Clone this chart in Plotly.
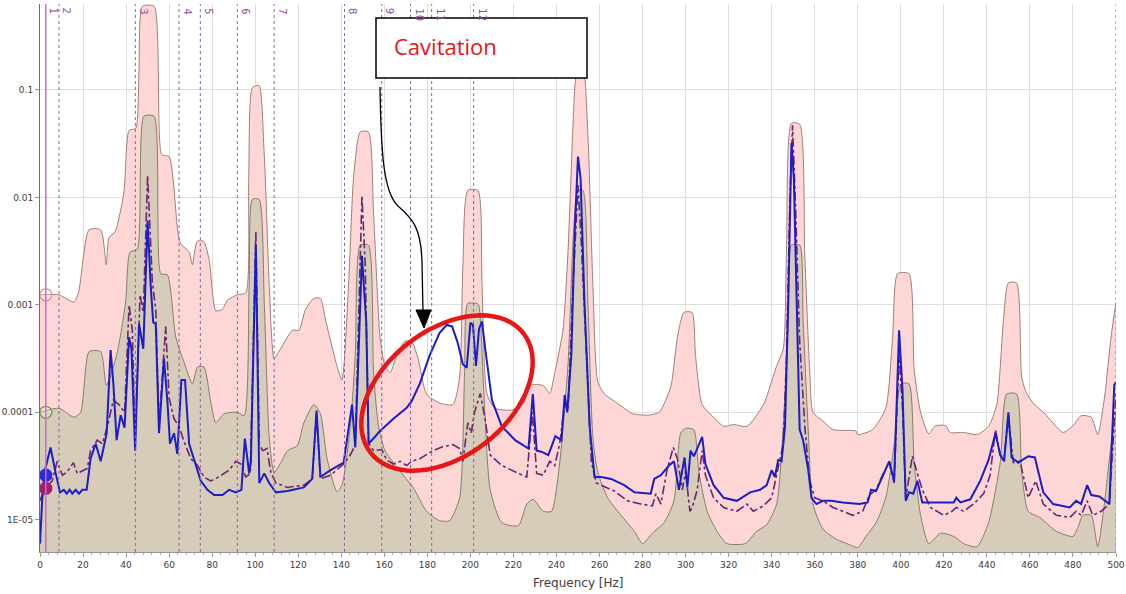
import plotly.graph_objects as go
import math

# ---------------- data ----------------
pink_hz = [0, 8.8, 15.8, 18, 22.8, 28.2, 30.8, 32, 35, 39, 41.4, 44.5, 46, 47.6, 53, 56.6, 60, 64, 65.4, 69.3,
           70.8, 73, 76, 78.6, 81.7, 84.8, 87, 91.7, 95.6, 97, 98.7, 101.8, 104, 105, 106.5, 108.8, 111, 117.3,
           120.3, 123.4, 127.3, 130.3, 132.7, 138, 140.3, 143.4, 145.7, 148.8, 152.6, 155, 158, 160.3, 162.7,
           165.8, 169.6, 172.8, 175.7, 179.6, 185.7, 191.9, 195, 196.5, 198.8, 203.5, 205.4, 207.7, 211.5,
           219.2, 224.6, 227.7, 233.8, 236.9, 239.2, 243, 245.4, 247.7, 249.2, 252.3, 254.6, 256.9, 259.2,
           262.3, 266.9, 271.5, 275.4, 282.3, 287.7, 293.1, 296.2, 299.2, 303, 304.6, 307.7, 312.3, 317.7,
           322.3, 328.5, 336.2, 342.3, 345.4, 346.9, 349.2, 353, 355.4, 357.7, 359.2, 363.8, 368.5, 379.2,
           380, 386.9, 393, 396.2, 398.5, 403.8, 406.2, 409.2, 413, 416, 420.8, 423, 429.2, 435.4, 440.8,
           444.6, 447.7, 450, 453.8, 456.2, 458.5, 461.5, 466.9, 475.4, 480, 483.8, 488.5, 491.5, 494.6,
           497.7, 500]
pink_val = [1.24e-3, 1.24e-3, 1.06e-3, 1.33e-3, 5.0e-3, 5.0e-3, 2.36e-3, 4.2e-3, 4.85e-3, 1.12e-2, 4.2e-2,
            4.4e-2, 0.149, 0.6, 0.6, 2.5e-2, 2.4e-2, 4.85e-3, 3.7e-3, 3.1e-3, 2.36e-3, 3.9e-3, 3.9e-3, 2.64e-3,
            8.8e-4, 9.1e-4, 1.1e-3, 1.24e-3, 1.29e-3, 1.5e-2, 0.105, 0.11, 3.0e-2, 1.04e-2, 1.55e-3, 3.16e-4,
            3.67e-4, 5.8e-4, 5.8e-4, 9.1e-4, 1.15e-3, 1.15e-3, 7.2e-4, 2.7e-4, 2.0e-4, 1.55e-3, 1.52e-2,
            4.07e-2, 4.07e-2, 7.1e-3, 5.0e-4, 2.7e-4, 2.34e-4, 3.4e-4, 4.6e-4, 4.5e-4, 3.16e-4, 1.48e-4,
            1.22e-4, 1.18e-4, 2.15e-4, 2.3e-3, 1.16e-2, 1.16e-2, 1.55e-3, 1.48e-4, 1.09e-4, 1.05e-4, 1.2e-4,
            1.78e-4, 1.78e-4, 1.5e-4, 2.34e-4, 5.8e-4, 3.3e-3, 4.75e-2, 0.132, 0.16, 3.8e-2, 1.55e-3, 1.92e-4,
            1.48e-4, 1.27e-4, 1.09e-4, 9.7e-5, 9.4e-5, 1.0e-4, 1.73e-4, 5.0e-4, 8.5e-4, 8.5e-4, 3.4e-4,
            1.18e-4, 9.3e-5, 7.4e-5, 7.7e-5, 7.4e-5, 1.18e-4, 2.7e-4, 3.9e-4, 3.3e-3, 4.9e-2, 4.8e-2, 2.85e-3,
            2.34e-4, 1.0e-4, 8.3e-5, 6.9e-5, 6.7e-5, 6.2e-5, 6.9e-5, 1.09e-4, 5.0e-4, 1.95e-3, 1.95e-3,
            2.5e-4, 1.0e-4, 6.3e-5, 7.5e-5, 7.5e-5, 6.5e-5, 6.5e-5, 6.2e-5, 7.4e-5, 1.18e-4, 7.2e-4, 1.6e-3,
            1.6e-3, 2.1e-4, 1.5e-4, 1.22e-4, 9.7e-5, 6.5e-5, 7.5e-5, 9.3e-5, 9.0e-5, 6.2e-5, 1.35e-4, 5.0e-4,
            1.07e-3]

tan_hz = [0, 8.8, 15.8, 18.9, 22.8, 28.2, 30.8, 32.8, 36, 39.8, 41.8, 45.2, 48.3, 53, 56.1, 59.2, 63.1, 67,
          70.8, 73.2, 76.2, 79.3, 81.7, 85.5, 91.7, 94.9, 97.2, 98.7, 101.8, 104.2, 106.5, 108.8, 111.9, 115,
          119.6, 122.6, 127.3, 130.3, 133.4, 138, 140.3, 144.2, 146.5, 148.8, 152.6, 155, 157.3, 160.3, 164.2,
          168.8, 173.4, 179.6, 185.7, 190.3, 195, 197.3, 198.8, 202.7, 203.8, 206.2, 209.2, 214.6, 222.3,
          226.2, 229.2, 233.8, 237.7, 241.5, 245.4, 247.7, 250, 252.3, 254.6, 256.9, 259.2, 263.8, 270,
          276.2, 280, 284.6, 290, 294.6, 297.7, 300, 303.8, 306.2, 310, 314.6, 319.2, 327.7, 333, 337.7,
          342.3, 345.4, 347.7, 349.2, 353, 354.6, 356.9, 359.2, 363.8, 370, 377.7, 380, 383.8, 388.5, 393,
          396.9, 400, 403.8, 406.2, 409.2, 413, 418.5, 424.6, 429.2, 435.4, 440.8, 446.2, 449.2, 453.8,
          456.2, 459.2, 464.6, 472.3, 480, 482.3, 484.6, 488.5, 491.5, 494.6, 497.7, 500]
tan_val = [1.0e-4, 1.09e-4, 9.0e-5, 1.0e-4, 3.67e-4, 3.67e-4, 1.78e-4, 2.2e-4, 3.67e-4, 1.06e-3, 3.08e-3,
           3.3e-3, 5.7e-2, 5.7e-2, 1.95e-3, 1.9e-3, 5.0e-4, 2.9e-4, 1.84e-4, 2.64e-4, 2.64e-4, 1.26e-4, 8.0e-5,
           9.7e-5, 1.0e-4, 9.3e-5, 1.55e-3, 9.6e-3, 9.6e-3, 1.06e-3, 5.9e-5, 2.76e-5, 3.4e-5, 4.4e-5, 4.9e-5,
           8.0e-5, 1.18e-4, 9.7e-5, 3.7e-5, 1.82e-5, 2.1e-5, 7.4e-5, 3.4e-4, 3.6e-3, 3.6e-3, 2.34e-4, 7.4e-5,
           4.4e-5, 3.4e-5, 2.6e-5, 2.0e-5, 1.2e-5, 9.8e-6, 9.8e-6, 1.6e-5, 2.34e-4, 1.03e-3, 1.03e-3, 1.0e-3,
           1.6e-4, 1.9e-5, 9.4e-6, 8.8e-6, 1.4e-5, 1.55e-5, 1.2e-5, 1.2e-5, 3.4e-5, 2.9e-4, 3.9e-3, 1.16e-2,
           1.16e-2, 1.06e-3, 5.9e-5, 2.76e-5, 1.6e-5, 1.1e-5, 7.8e-6, 6.0e-6, 7.5e-6, 9.4e-6, 1.5e-5, 6.4e-5,
           7.1e-5, 6.9e-5, 2.76e-5, 1.2e-5, 7.8e-6, 6.0e-6, 6.0e-6, 7.8e-6, 9.0e-6, 1.4e-5, 7.4e-5, 7.2e-4,
           3.6e-3, 3.6e-3, 7.2e-4, 7.4e-5, 1.4e-5, 8.2e-6, 6.6e-6, 5.7e-6, 5.5e-6, 7.0e-6, 9.4e-6, 1.6e-5,
           5.0e-5, 1.84e-4, 1.84e-4, 3.4e-5, 1.1e-5, 6.0e-6, 7.5e-6, 7.0e-6, 6.0e-6, 5.6e-6, 9.4e-6, 3.4e-5,
           1.48e-4, 1.48e-4, 2.76e-5, 1.2e-5, 1.05e-5, 7.8e-6, 7.0e-6, 8.5e-6, 1.1e-5, 1.1e-5, 5.6e-6, 1.4e-5,
           5.0e-5, 1.0e-4]

blue_hz = [0, 1, 2.1, 4.9, 7.3, 9.3, 11.1, 12.4, 13.8, 15, 16.6, 18.1, 19.7, 21.7, 23.5, 25.9, 28.2, 31, 32.8,
           34.1, 35.6, 37.5, 39.3, 41.4, 42.5, 44.2, 46, 48, 50, 51.4, 52.6, 53.8, 55.3, 57.6, 59.2, 60.4,
           62.3, 63.8, 65.7, 67.4, 69.3, 71.6, 74.7, 77.8, 80.9, 84.8, 87.9, 91, 93.6, 95.2, 97.2, 98, 100.3,
           101.9, 104.2, 106.5, 109.6, 115, 122.6, 126.5, 128.5, 130.3, 135, 141.1, 143.4, 145, 146.5, 148.5,
           149.6, 151.6, 152.7, 154.2, 158, 164.2, 170.4, 172.7, 176.5, 181.1, 185.7, 189, 191.5, 194, 196.5,
           198.3, 200, 201.2, 202.6, 204, 205.4, 206.9, 210, 214.6, 220.8, 227, 229, 230.8, 233, 236.2, 239.5,
           242.3, 243.8, 245, 246.9, 248.5, 250, 251.2, 253, 255.4, 257.7, 260.8, 265.4, 271.5, 276.2, 283.8,
           285.4, 288.5, 292.3, 294.6, 296.9, 299.5, 300.8, 302.3, 303.8, 305, 307.7, 309.2, 313, 317.7,
           323.8, 330, 334.6, 337.7, 340, 341.5, 343, 344.6, 346.2, 347.7, 349.2, 350.3, 351.5, 353, 354.6,
           356.9, 358.5, 360.8, 363.8, 367.7, 373, 380.8, 384.6, 386.2, 388.5, 391.5, 394.6, 396.9, 399.2,
           400.8, 402.3, 403.8, 405.8, 407.7, 410, 415.4, 424.6, 425.8, 427.7, 432.3, 436.9, 440.8, 444,
           446.2, 448, 450, 451.5, 454.6, 459.2, 462.3, 466.2, 470.8, 478.5, 481.5, 483.8, 486.6, 488.5,
           492.3, 496.9, 499.2, 500]
blue_val = [6.0e-6, 1.5e-5, 2.77e-5, 4.7e-5, 2.7e-5, 1.8e-5, 1.9e-5, 1.75e-5, 1.9e-5, 1.75e-5, 1.9e-5,
            1.75e-5, 1.9e-5, 1.9e-5, 3.7e-5, 5.1e-5, 3.5e-5, 6.4e-5, 3.8e-4, 1.84e-4, 5.5e-5, 9.4e-5, 7.2e-5,
            5.0e-4, 3.9e-4, 4.4e-5, 6.7e-4, 3.9e-4, 6.1e-3, 1.55e-3, 6.9e-4, 6.6e-4, 6.4e-5, 3.16e-4, 1.27e-4,
            5.1e-5, 6.4e-5, 4.1e-5, 2.0e-4, 2.0e-4, 5.1e-5, 3.7e-5, 2.3e-5, 1.9e-5, 1.7e-5, 1.7e-5, 1.9e-5,
            1.8e-5, 1.9e-5, 5.7e-5, 2.7e-5, 3.5e-5, 3.6e-3, 2.2e-5, 2.7e-5, 2.2e-5, 1.8e-5, 1.85e-5, 2.0e-5,
            2.4e-5, 1.04e-4, 2.5e-5, 2.9e-5, 3.4e-5, 7.4e-5, 1.18e-4, 4.7e-5, 6.9e-4, 2.86e-3, 6.9e-4, 5.1e-5,
            5.5e-5, 6.7e-5, 8.7e-5, 1.1e-4, 1.27e-4, 1.85e-4, 3.4e-4, 5.5e-4, 6.5e-4, 6.3e-4, 4.5e-4, 2.8e-4,
            2.6e-4, 6.8e-4, 6.5e-4, 2.7e-4, 6.0e-4, 7.0e-4, 3.9e-4, 1.3e-4, 7.4e-5, 5.5e-5, 4.6e-5, 1.48e-4,
            4.4e-5, 4.3e-5, 4.0e-5, 6.0e-5, 5.5e-5, 1.45e-4, 1.0e-4, 3.4e-4, 5.0e-3, 2.4e-2, 1.5e-2, 1.06e-3,
            7.4e-5, 2.5e-5, 2.5e-5, 2.4e-5, 2.1e-5, 1.8e-5, 1.75e-5, 2.4e-5, 2.6e-5, 3.2e-5, 3.5e-5, 1.9e-5,
            3.8e-5, 2.0e-5, 4.4e-5, 3.9e-5, 4.4e-5, 5.9e-5, 3.3e-5, 2.1e-5, 1.6e-5, 1.5e-5, 1.8e-5, 1.9e-5,
            2.1e-5, 2.9e-5, 2.5e-5, 3.6e-5, 3.5e-5, 7.4e-5, 1.06e-3, 3.2e-2, 1.5e-2, 1.55e-3, 6.9e-5, 5.5e-5,
            3.0e-5, 1.6e-5, 1.4e-5, 1.5e-5, 1.5e-5, 1.45e-5, 1.4e-5, 1.45e-5, 1.9e-5, 1.85e-5, 2.5e-5, 3.5e-5,
            2.3e-5, 5.8e-4, 1.6e-4, 1.5e-5, 1.8e-5, 1.75e-5, 2.3e-5, 1.45e-5, 1.45e-5, 1.45e-5, 1.6e-5,
            1.45e-5, 1.55e-5, 2.3e-5, 3.6e-5, 6.4e-5, 4.0e-5, 3.5e-5, 1.0e-4, 3.8e-5, 3.4e-5, 3.9e-5, 3.8e-5,
            1.8e-5, 1.4e-5, 1.3e-5, 1.5e-5, 1.4e-5, 2.1e-5, 1.7e-5, 1.65e-5, 1.4e-5, 1.8e-4, 1.9e-4]

purple_hz = [0, 1.8, 5.7, 8, 10.4, 12.7, 15.5, 17.3, 22, 23.5, 26.6, 29, 31.3, 34.1, 36.7, 39.3, 41.4, 42.9,
             44.2, 46.5, 48, 50, 52.2, 53.8, 55.3, 58.4, 60, 62.3, 64.6, 67, 70.1, 73.2, 76.2, 79.3, 83.1,
             87.9, 91, 93.3, 95.6, 97.7, 100.3, 101.9, 103.5, 105.5, 107.2, 109.6, 115, 122.6, 126.5, 128.5,
             130.3, 135, 141.1, 144.2, 146.5, 148, 149.6, 151.1, 152.7, 155, 158.8, 161.1, 164.2, 167.3, 170.4,
             172.7, 176.5, 182.7, 187.3, 191.9, 195, 196.5, 198.8, 200.4, 201.9, 204.6, 206.9, 209.2, 214.6,
             222.3, 226.2, 228.8, 230.8, 233.8, 236.9, 239.2, 241.5, 243.8, 245.4, 247.7, 250, 251.5, 253.8,
             256.2, 258.5, 260.8, 266.9, 273, 279.2, 284.6, 286.2, 288.5, 291.5, 294.3, 296.2, 298.5, 300,
             302, 303.1, 305.4, 307.7, 309.2, 313, 317.7, 323.8, 328.5, 331.5, 336.2, 340, 342.3, 345.4,
             346.9, 348.5, 349.7, 351.2, 353, 355.4, 357.7, 360, 363.8, 368.5, 373, 377.7, 382.3, 385.4,
             388.5, 391.5, 394.6, 396.9, 399.2, 400.8, 402.3, 405.4, 407.7, 410, 413.8, 420, 423.8, 425.8,
             429.2, 433.8, 438.5, 441.5, 444, 446.2, 448, 450, 452.3, 455.4, 459.2, 462.7, 466.2, 472.3,
             478.5, 481.5, 483.8, 486.6, 489.2, 493.1, 496.9, 499.2, 500]
purple_val = [1.5e-5, 1.9e-5, 2.3e-5, 3.5e-5, 2.6e-5, 2.8e-5, 3.4e-5, 2.7e-5, 3.0e-5, 4.4e-5, 5.5e-5, 5.1e-5,
              7.4e-5, 1.3e-4, 1.18e-4, 1.0e-4, 1.0e-3, 5.8e-4, 5.1e-5, 1.24e-3, 8.5e-4, 1.6e-2, 1.65e-3,
              9.0e-4, 7.4e-5, 6.3e-4, 1.36e-4, 8.7e-5, 7.4e-5, 5.3e-5, 3.7e-5, 3.2e-5, 2.5e-5, 2.3e-5, 2.5e-5,
              2.9e-5, 3.5e-5, 3.3e-5, 2.5e-5, 2.7e-5, 4.8e-3, 5.0e-5, 4.4e-5, 4.6e-5, 2.8e-5, 2.2e-5, 2.0e-5,
              2.1e-5, 2.4e-5, 9.7e-5, 2.4e-5, 2.6e-5, 3.3e-5, 4.0e-5, 5.0e-5, 7.2e-4, 1.04e-2, 2.4e-3, 5.1e-5,
              4.4e-5, 4.5e-5, 3.6e-5, 3.3e-5, 3.5e-5, 3.2e-5, 3.5e-5, 3.7e-5, 4.4e-5, 4.8e-5, 5.0e-5, 4.6e-5,
              3.5e-5, 8.0e-5, 6.4e-5, 1.0e-4, 1.5e-4, 8.5e-5, 4.0e-5, 3.2e-5, 2.7e-5, 2.5e-5, 1.0e-4, 2.7e-5,
              2.6e-5, 3.5e-5, 3.2e-5, 5.1e-5, 1.2e-4, 1.05e-4, 1.55e-3, 1.3e-2, 3.9e-3, 3.4e-4, 3.5e-5, 2.2e-5,
              2.1e-5, 1.85e-5, 1.5e-5, 1.4e-5, 1.35e-5, 1.75e-5, 1.4e-5, 3.0e-5, 4.7e-5, 3.7e-5, 1.9e-5,
              2.8e-5, 1.2e-5, 1.3e-5, 1.9e-5, 4.4e-5, 2.6e-5, 1.6e-5, 1.3e-5, 1.2e-5, 1.4e-5, 1.2e-5, 1.35e-5,
              1.6e-5, 2.6e-5, 5.1e-5, 3.4e-4, 1.04e-2, 4.7e-2, 7.1e-3, 4.6e-4, 7.4e-5, 2.3e-5, 1.6e-5, 1.5e-5,
              1.3e-5, 1.2e-5, 1.1e-5, 1.2e-5, 1.7e-5, 1.9e-5, 2.6e-5, 3.4e-5, 2.2e-5, 3.4e-4, 1.1e-4, 1.6e-5,
              3.9e-5, 2.7e-5, 1.9e-5, 1.3e-5, 1.1e-5, 1.2e-5, 1.3e-5, 1.2e-5, 1.4e-5, 1.75e-5, 2.6e-5, 6.9e-5,
              4.0e-5, 3.8e-5, 9.0e-5, 3.4e-5, 3.5e-5, 1.6e-5, 2.3e-5, 1.4e-5, 1.1e-5, 1.05e-5, 1.2e-5, 1.1e-5,
              1.5e-5, 1.1e-5, 1.2e-5, 1.4e-5, 9.0e-5, 1.5e-4]

marker_hz = [2.7, 8.8, 44.3, 64.6, 74.5, 91.7, 108.8, 141.5, 158.8, 172.2, 182.0, 201.5]
marker_labels = ["1", "2", "3", "4", "5", "6", "7", "8", "9", "10", "11", "12"]

cursor_hz = 2.7
cursor_vals = [1.24e-3, 1.0e-4, 2.6e-5, 1.96e-5]
cursor_colors = ["#e88a96", "#6f9a52", "#2a2ae0", "#a0206e"]
cursor_filled = [False, False, True, True]

# ---------------- geometry helpers (annotation overlays) ----------------
W, H = 1126, 594
ML, MR, MT, MB = 40, 10, 4, 42
PW, PH = W - ML - MR, H - MT - MB


def pp(px, py):
    return (px - ML) / PW, (H - MB - py) / PH


fig = go.Figure()

floor = 1e-9
fig.add_trace(go.Scatter(x=[0, 500], y=[floor, floor], mode="lines", line=dict(width=0),
                         hoverinfo="skip", showlegend=False))
fig.add_trace(go.Scatter(x=pink_hz, y=pink_val, mode="lines", fill="tonexty",
                         fillcolor="rgb(255,214,214)",
                         line=dict(color="rgb(160,128,118)", width=1, shape="spline", smoothing=0.6),
                         showlegend=False))
fig.add_trace(go.Scatter(x=[0, 500], y=[floor, floor], mode="lines", line=dict(width=0),
                         hoverinfo="skip", showlegend=False))
fig.add_trace(go.Scatter(x=tan_hz, y=tan_val, mode="lines", fill="tonexty",
                         fillcolor="rgb(215,204,185)",
                         line=dict(color="rgb(128,128,104)", width=1, shape="spline", smoothing=0.6),
                         showlegend=False))
fig.add_trace(go.Scatter(x=purple_hz, y=purple_val, mode="lines",
                         line=dict(color="rgb(112,36,112)", width=1.6, dash="dashdot"), showlegend=False))
fig.add_trace(go.Scatter(x=blue_hz, y=blue_val, mode="lines",
                         line=dict(color="rgb(28,28,200)", width=2), showlegend=False))

for v, c, f in zip(cursor_vals, cursor_colors, cursor_filled):
    fig.add_trace(go.Scatter(x=[cursor_hz], y=[v], mode="markers", showlegend=False,
                             marker=dict(size=12, color=c if f else "rgba(255,255,255,0.25)",
                                         line=dict(color=c, width=1.3))))

shapes = []
for i, hz in enumerate(marker_hz):
    if i == 0:
        shapes.append(dict(type="line", xref="x", yref="paper", x0=hz, x1=hz, y0=0, y1=1,
                           line=dict(color="rgb(200,110,200)", width=1.5), layer="above"))
    else:
        shapes.append(dict(type="line", xref="x", yref="paper", x0=hz, x1=hz, y0=0, y1=1,
                           line=dict(color="rgb(150,90,180)", width=1, dash="dot"), layer="above"))
shapes.append(dict(type="line", xref="x", yref="paper", x0=500, x1=500, y0=0, y1=1,
                   line=dict(color="rgb(150,90,180)", width=1, dash="dot"), layer="above"))

# Cavitation box
bx0, by0 = pp(376, 78)
bx1, by1 = pp(587, 18)
shapes.append(dict(type="rect", xref="paper", yref="paper", x0=bx0, y0=by0, x1=bx1, y1=by1,
                   fillcolor="white", line=dict(color="black", width=1.5), layer="above"))

# curved arrow
pts = [(380, 87), (381, 150), (383, 192), (398, 206), (413, 219), (421, 228), (422, 262)]
p = [pp(*q) for q in pts]
end = pp(423, 312)
path = "M {:.5f},{:.5f} C {:.5f},{:.5f} {:.5f},{:.5f} {:.5f},{:.5f} C {:.5f},{:.5f} {:.5f},{:.5f} {:.5f},{:.5f} L {:.5f},{:.5f}".format(
    *p[0], *p[1], *p[2], *p[3], *p[4], *p[5], *p[6], *end)
shapes.append(dict(type="path", xref="paper", yref="paper", path=path,
                   line=dict(color="black", width=1.3), layer="above"))
h1, h2, h3 = pp(416, 310), pp(431, 310), pp(424, 328)
shapes.append(dict(type="path", xref="paper", yref="paper",
                   path="M {:.5f},{:.5f} L {:.5f},{:.5f} L {:.5f},{:.5f} Z".format(*h1, *h2, *h3),
                   fillcolor="black", line=dict(color="black", width=1), layer="above"))

# red ellipse
cx, cy, a, b, th = 447, 393, 97, 63, math.radians(38)
segs = []
for k in range(0, 73):
    t = 2 * math.pi * k / 72
    ex = cx + a * math.cos(t) * math.cos(th) - b * math.sin(t) * math.sin(th)
    ey = cy - (a * math.cos(t) * math.sin(th) + b * math.sin(t) * math.cos(th))
    X, Y = pp(ex, ey)
    segs.append(("M" if k == 0 else "L") + " {:.5f},{:.5f}".format(X, Y))
shapes.append(dict(type="path", xref="paper", yref="paper", path=" ".join(segs) + " Z",
                   line=dict(color="rgb(232,22,22)", width=4.5), layer="above"))

annotations = []
for hz, lab in zip(marker_hz, marker_labels):
    annotations.append(dict(x=hz, y=1, xref="x", yref="paper", text=lab, showarrow=False,
                            textangle=90, xanchor="left", yanchor="top", xshift=1, yshift=-2,
                            font=dict(family="DejaVu Sans", size=10, color="rgb(140,80,160)")))
tx, ty = pp(392, 46)
annotations.append(dict(x=tx, y=ty, xref="paper", yref="paper", text="Cavitation", showarrow=False,
                        xanchor="left", yanchor="middle",
                        font=dict(family="Open Sans", size=22, color="rgb(235,20,20)")))
fx, fy = pp(580, 583)
annotations.append(dict(x=0.5, y=fy, xref="paper", yref="paper", text="Frequency [Hz]", showarrow=False,
                        xanchor="center", yanchor="middle",
                        font=dict(family="DejaVu Sans", size=12, color="#404040")))

fig.update_layout(
    width=W, height=H, margin=dict(l=ML, r=MR, t=MT, b=MB, autoexpand=False),
    paper_bgcolor="white", plot_bgcolor="white",
    shapes=shapes, annotations=annotations, showlegend=False,
    xaxis=dict(range=[0, 500], dtick=20, tick0=0, showgrid=True, gridcolor="rgb(222,222,222)",
               gridwidth=1, zeroline=False, showline=True, linecolor="rgb(150,150,150)",
               ticks="outside", ticklen=4, tickcolor="rgb(150,150,150)", ticklabeloverflow="allow",
               automargin=False,
               minor=dict(dtick=4, ticks="outside", ticklen=2, tickcolor="rgb(170,170,170)", showgrid=False),
               tickfont=dict(family="DejaVu Sans", size=9, color="#404040")),
    yaxis=dict(type="log", range=[-5.3, -0.2], automargin=False,
               tickvals=[1e-5, 1e-4, 1e-3, 1e-2, 1e-1],
               ticktext=["1E-05", "0.0001", "0.001", "0.01", "0.1"],
               showgrid=True, gridcolor="rgb(222,222,222)", zeroline=False,
               showline=True, linecolor="rgb(110,110,110)", ticks="outside", ticklen=4,
               tickcolor="rgb(150,150,150)",
               tickfont=dict(family="DejaVu Sans", size=9, color="#404040")),
)

fig.write_html("out.html", config={"displayModeBar": False})
